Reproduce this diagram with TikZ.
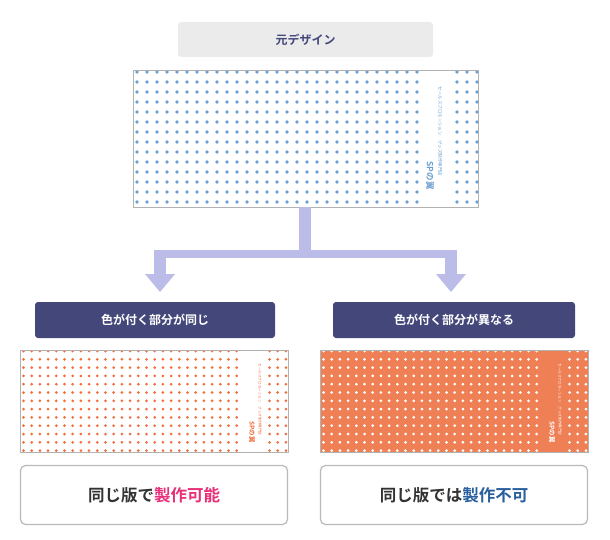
\documentclass[tikz,border=0pt]{standalone}
\usepackage{fontspec}
\newfontfamily\jp{Noto Sans CJK JP}
\newfontfamily\jpb{Noto Sans CJK JP Bold}
\begin{document}
\begin{tikzpicture}[x=1pt,y=-1pt,
  lbl/.style={rounded corners=3pt,inner sep=0pt,font=\jpb\fontsize{12}{12}\selectfont},
  towel/.style={draw=gray!60,line width=0.8pt},
  res/.style={draw=gray!55,line width=1.2pt,rounded corners=5pt,fill=white}]
\definecolor{navy}{HTML}{43477A}
\definecolor{blued}{HTML}{6A9FD0}
\definecolor{orng}{HTML}{EF8055}
\definecolor{orngd}{HTML}{F07040}
\definecolor{arrw}{HTML}{BCBCE9}
\definecolor{pinkt}{HTML}{E8307A}
\definecolor{bluet}{HTML}{2A5F9E}
\useasboundingbox (0,0) rectangle (610,540);
% top label
\node[lbl,fill=black!8,text=navy,minimum width=255pt,minimum height=35pt] (top) at (305.5,39.5) {元デザイン};
% top towel
\begin{scope}
\clip (133,70) rectangle (478,207);
\foreach \i in {0,...,35}{\foreach \j in {0,...,14}{
  \fill[blued] (137+\i*10,72+\j*10) circle (1.8pt);}}
\fill[white] (419,70) rectangle (449,207);
\end{scope}
\node[towel,minimum width=345pt,minimum height=137pt,inner sep=0pt] (t0) at (305.5,138.5) {};
\node[rotate=-90,text=blued,font=\jp\fontsize{4.5}{5}\selectfont,anchor=west] (t0a) at (440,83) {セールスプロモーション　グッズ制作専門店};
\node[rotate=-90,text=blued,font=\jpb\fontsize{8.5}{9}\selectfont,anchor=west] (t0b) at (430,158) {SPの翼};
% arrows
\coordinate (am) at (305,254);
\coordinate (al) at (160,292);
\coordinate (ar) at (451,292);
\fill[arrw] (299,207) rectangle (311,258);
\fill[arrw] (154,250) rectangle (457,258);
\fill[arrw] (154,250) rectangle (166,276);
\fill[arrw] (445,250) rectangle (457,276);
\fill[arrw] (145,274) -- (175,274) -- (al) -- cycle;
\fill[arrw] (436,274) -- (466,274) -- (ar) -- cycle;
% bottom labels
\node[lbl,fill=navy,text=white,minimum width=240pt,minimum height=36pt] (l1) at (155,320) {色が付く部分が同じ};
\node[lbl,fill=navy,text=white,minimum width=242pt,minimum height=36pt] (l2) at (454,320) {色が付く部分が異なる};
% left towel
\begin{scope}
\clip (20,350) rectangle (288,452);
\foreach \i in {0,...,33}{\foreach \j in {0,...,12}{
  \fill[orngd] (23.5+\i*8.2,351+\j*8.3) circle (1.5pt);}}
\fill[white] (243,350) rectangle (268,452);
\end{scope}
\node[towel,minimum width=268pt,minimum height=102pt,inner sep=0pt] (t1) at (154,401) {};
\node[rotate=-90,text=orngd,font=\jp\fontsize{3.6}{4}\selectfont,anchor=west] at (260,360) {セールスプロモーション　グッズ制作専門店};
\node[rotate=-90,text=orngd,font=\jpb\fontsize{6.5}{7}\selectfont,anchor=west] at (252,418) {SPの翼};
% right towel
\begin{scope}
\clip (320,350) rectangle (588,452);
\fill[orng] (320,350) rectangle (588,452);
\foreach \i in {0,...,33}{\foreach \j in {0,...,12}{
  \fill[white] (323.5+\i*8.2,351+\j*8.3) circle (1.5pt);}}
\fill[orng] (543,350) rectangle (568,452);
\end{scope}
\node[towel,minimum width=268pt,minimum height=102pt,inner sep=0pt] (t2) at (454,401) {};
\node[rotate=-90,text=white,font=\jp\fontsize{3.6}{4}\selectfont,anchor=west] at (560,360) {セールスプロモーション　グッズ制作専門店};
\node[rotate=-90,text=white,font=\jpb\fontsize{6.5}{7}\selectfont,anchor=west] at (552,418) {SPの翼};
% results
\node[res,minimum width=267pt,minimum height=59pt,font=\jpb\fontsize{16.5}{17}\selectfont,text=black!80] (r1) at (154,495) {同じ版で\textcolor{pinkt}{製作可能}};
\node[res,minimum width=267pt,minimum height=59pt,font=\jpb\fontsize{16.5}{17}\selectfont,text=black!80] (r2) at (454,495) {同じ版では\textcolor{bluet}{製作不可}};
\end{tikzpicture}
\end{document}
